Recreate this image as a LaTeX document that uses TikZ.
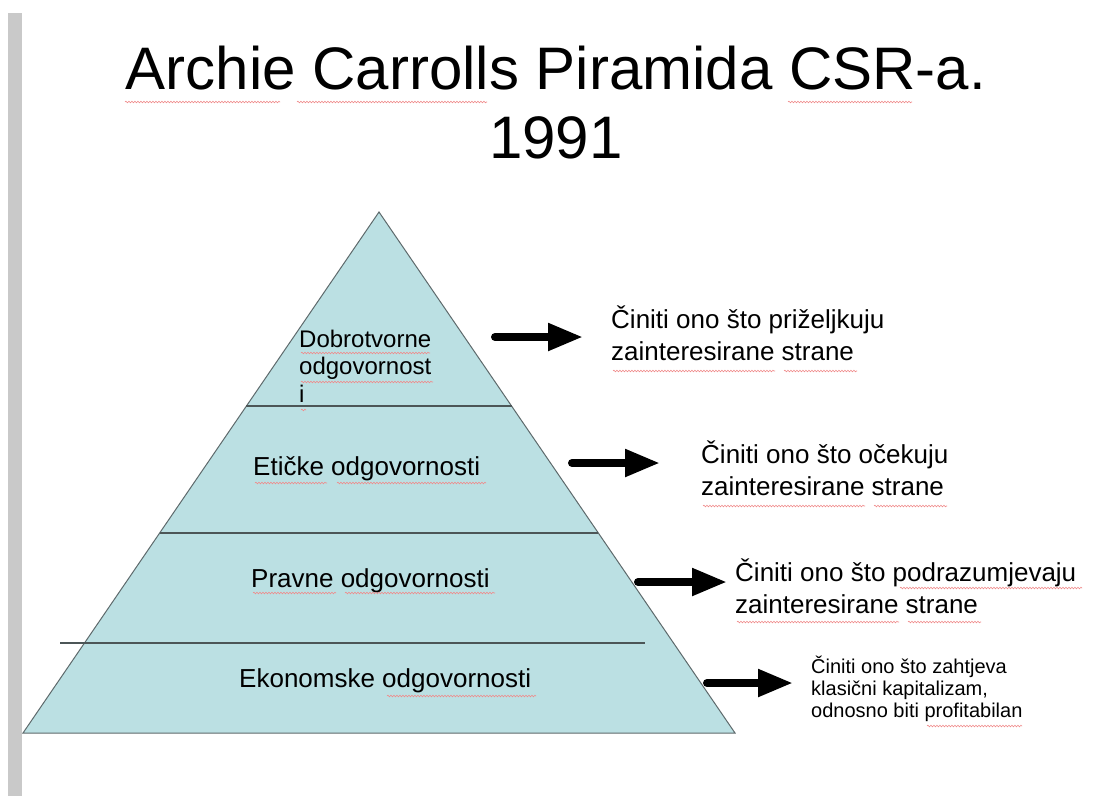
\documentclass[tikz,border=0pt]{standalone}
\usepackage{fontspec}
\setmainfont{Liberation Sans}
\usetikzlibrary{arrows.meta,decorations.pathmorphing}
\definecolor{pyrfill}{HTML}{BBE0E3}
\definecolor{pyredge}{HTML}{5E6A6C}
\definecolor{divline}{HTML}{4C5657}
\definecolor{barcol}{HTML}{C9C9C9}
\definecolor{spellred}{HTML}{F08A8A}
\tikzset{
  titletxt/.style={font=\fontsize{60}{69}\selectfont, inner sep=0, anchor=base},
  lbl/.style={font=\fontsize{26}{31.5}\selectfont, inner sep=0, anchor=base west, align=left},
  toplbl/.style={font=\fontsize{24}{27.5}\selectfont, inner sep=0, anchor=base west, align=left},
  sml/.style={font=\fontsize{20}{22}\selectfont, inner sep=0, anchor=base west, align=left},
  bigarrow/.style={line width=8pt, line cap=round, -{Triangle[length=35pt,width=26pt]}},
  divider/.style={draw=divline, line width=1.3pt},
  spell/.style={draw=spellred, line width=0.6pt, decorate, decoration={snake, amplitude=0.8pt, segment length=3pt}}
}
\begin{document}
\begin{tikzpicture}[x=1pt,y=-1pt]
\useasboundingbox (0,0) rectangle (1094,796);
\fill[white] (0,0) rectangle (1094,796);
% left gray bar
\fill[barcol] (8,13) rectangle (22,796);

% title
\node[titletxt] (title1) at (556,89) {Archie Carrolls Piramida CSR-a.};
\node[titletxt] (title2) at (556,158) {1991};

% pyramid
\path[fill=pyrfill, draw=pyredge, line width=1pt] (379,212) -- (735,733) -- (23,733) -- cycle;
\draw[divider] (246,406) -- (512,406);
\draw[divider] (160,533) -- (598,533);
\draw[divider] (60,643) -- (645,643);

% pyramid labels (multi-line nodes: base = last line's baseline)
\node[toplbl] (dob) at (299,402) {Dobrotvorne\\odgovornost\\i};
\node[lbl] (eti) at (253,475) {Etičke odgovornosti};
\node[lbl] (pra) at (251,587) {Pravne odgovornosti};
\node[lbl] (eko) at (239,687) {Ekonomske odgovornosti};

% right texts
\node[lbl] (t1) at (611,360) {Činiti ono što priželjkuju\\zainteresirane strane};
\node[lbl] (t2) at (701,495) {Činiti ono što očekuju\\zainteresirane strane};
\node[lbl] (t3) at (735,613) {Činiti ono što podrazumjevaju\\zainteresirane strane};
\node[sml] (t4) at (811,717) {Činiti ono što zahtjeva\\klasični kapitalizam,\\odnosno biti profitabilan};

% arrows
\coordinate (a1s) at (495,337); \coordinate (a1e) at (583,337);
\coordinate (a2s) at (572,463); \coordinate (a2e) at (660,463);
\coordinate (a3s) at (638,582); \coordinate (a3e) at (727,582);
\coordinate (a4s) at (707,683); \coordinate (a4e) at (793,683);
\draw[bigarrow] (a1s) -- (a1e);
\draw[bigarrow] (a2s) -- (a2e);
\draw[bigarrow] (a3s) -- (a3e);
\draw[bigarrow] (a4s) -- (a4e);

% spell-check underlines
\draw[spell] (125,102) -- (280,102);
\draw[spell] (297,102) -- (487,102);
\draw[spell] (788,102) -- (912,102);
\draw[spell] (301,353) -- (430,353);
\draw[spell] (301,382) -- (433,382);
\draw[spell] (301,410) -- (306,410);
\draw[spell] (255,483) -- (327,483);
\draw[spell] (337,483) -- (486,483);
\draw[spell] (253,593) -- (336,593);
\draw[spell] (345,593) -- (495,593);
\draw[spell] (387,696) -- (536,696);
\draw[spell] (613,371) -- (775,371);
\draw[spell] (784,371) -- (857,371);
\draw[spell] (703,506) -- (865,506);
\draw[spell] (874,506) -- (947,506);
\draw[spell] (900,588) -- (1082,588);
\draw[spell] (737,622) -- (899,622);
\draw[spell] (908,622) -- (981,622);
\draw[spell] (927,726) -- (1022,726);
\end{tikzpicture}
\end{document}
